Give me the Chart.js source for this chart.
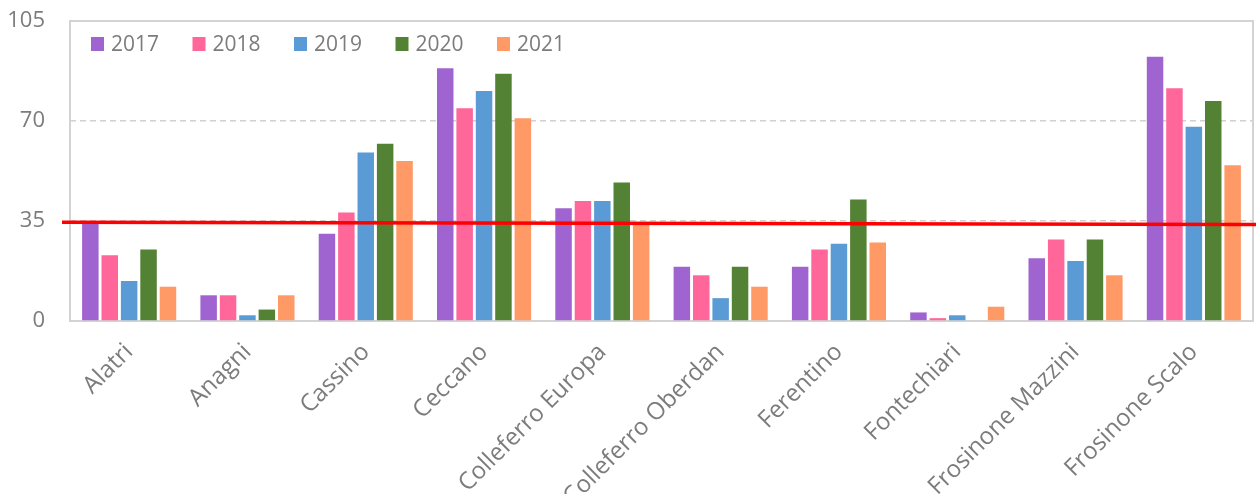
<!DOCTYPE html>
<html>
<head>
<meta charset="utf-8">
<script src="https://cdn.jsdelivr.net/npm/chart.js@4"></script>
<style>
  html, body { margin: 0; padding: 0; background: #ffffff; }
  #wrap { width: 1256px; height: 494px; }
</style>
</head>
<body>
<div id="wrap"><canvas id="chart" width="1256" height="494"></canvas></div>
<script>
// Stations
const stations = ['Alatri', 'Anagni', 'Cassino', 'Ceccano', 'Colleferro Europa',
  'Colleferro Oberdan', 'Ferentino', 'Fontechiari', 'Frosinone Mazzini', 'Frosinone Scalo'];

// Yearly values per station
const years = ['2017', '2018', '2019', '2020', '2021'];
const v2017 = [34, 9, 30.5, 88.5, 39.5, 19, 19, 3, 22, 92.5];
const v2018 = [23, 9, 38, 74.5, 42, 16, 25, 1, 28.5, 81.5];
const v2019 = [14, 2, 59, 80.5, 42, 8, 27, 2, 21, 68];
const v2020 = [25, 4, 62, 86.5, 48.5, 19, 42.5, 0, 28.5, 77];
const v2021 = [12, 9, 56, 71, 34, 12, 27.5, 5, 16, 54.5];

// Y axis ticks
const yTicks = [0, 35, 70, 105];

// Limit line (value at the left end, value at the right end)
const limitLine = [34.6, 33.8];

const colors = ['#a064d0', '#ff6699', '#5b9bd5', '#548235', '#ff9966'];
const series = [v2017, v2018, v2019, v2020, v2021];
const TEXT = '#7c7c7c';
const FONT = "'Open Sans', 'DejaVu Sans', sans-serif";

// Plot frame, dashed grid handled by the scale
const framePlugin = {
  id: 'frame',
  beforeDatasetsDraw(chart) {
    const { ctx, chartArea: a } = chart;
    ctx.save();
    ctx.strokeStyle = '#d3d3d3';
    ctx.lineWidth = 2;
    ctx.strokeRect(a.left, a.top, a.right - a.left, a.bottom - a.top);
    ctx.restore();
  }
};

// Red limit line drawn over the bars
const limitPlugin = {
  id: 'limit',
  afterDatasetsDraw(chart) {
    const { ctx, chartArea: a } = chart;
    const y = chart.scales.y;
    ctx.save();
    ctx.strokeStyle = '#ff0000';
    ctx.lineWidth = 3.5;
    ctx.beginPath();
    ctx.moveTo(a.left - 8, y.getPixelForValue(limitLine[0]));
    ctx.lineTo(chart.width, y.getPixelForValue(limitLine[1]));
    ctx.stroke();
    ctx.restore();
  }
};

// Legend placed inside the plot frame, top left
const innerLegend = {
  id: 'innerLegend',
  afterDraw(chart) {
    const { ctx, chartArea: a } = chart;
    ctx.save();
    ctx.font = '21px ' + FONT;
    ctx.textBaseline = 'middle';
    ctx.textAlign = 'left';
    const cy = a.top + 23;
    chart.data.datasets.forEach((ds, i) => {
      const x = a.left + 21 + i * 101.5;
      ctx.fillStyle = ds.backgroundColor;
      ctx.fillRect(x, cy - 7, 13, 14);
      ctx.fillStyle = TEXT;
      ctx.fillText(ds.label, x + 20, cy + 1);
    });
    ctx.restore();
  }
};

new Chart(document.getElementById('chart'), {
  type: 'bar',
  data: {
    labels: stations,
    datasets: years.map((yr, i) => ({
      label: yr,
      data: series[i],
      backgroundColor: colors[i],
      borderWidth: 0,
      categoryPercentage: 0.82,
      barPercentage: 0.85
    }))
  },
  options: {
    responsive: false,
    animation: false,
    devicePixelRatio: 1,
    layout: { padding: { top: 21, right: 3, left: 0, bottom: 0 } },
    plugins: { legend: { display: false }, tooltip: { enabled: false } },
    scales: {
      x: {
        grid: { display: false, drawTicks: false },
        border: { display: false },
        ticks: {
          color: TEXT,
          font: { family: FONT, size: 24 },
          minRotation: 45,
          maxRotation: 45,
          padding: 17,
          autoSkip: false
        },
        afterFit(s) { s.height = 173; }
      },
      y: {
        min: 0,
        max: 105,
        afterBuildTicks(s) { s.ticks = yTicks.map(v => ({ value: v })); },
        grid: {
          drawTicks: false,
          lineWidth: 1.5,
          color: ctx => (ctx.tick && (ctx.tick.value === 0 || ctx.tick.value === 105)) ? 'rgba(0,0,0,0)' : '#d0d0d0'
        },
        border: { display: false, dash: [6, 4] },
        ticks: {
          color: TEXT,
          font: { family: FONT, size: 22 },
          padding: 25
        },
        afterFit(s) {
          s.width = 70;
          s.paddingTop = 0;
          s.paddingBottom = 0;
        }
      }
    }
  },
  plugins: [framePlugin, limitPlugin, innerLegend]
});
</script>
</body>
</html>
